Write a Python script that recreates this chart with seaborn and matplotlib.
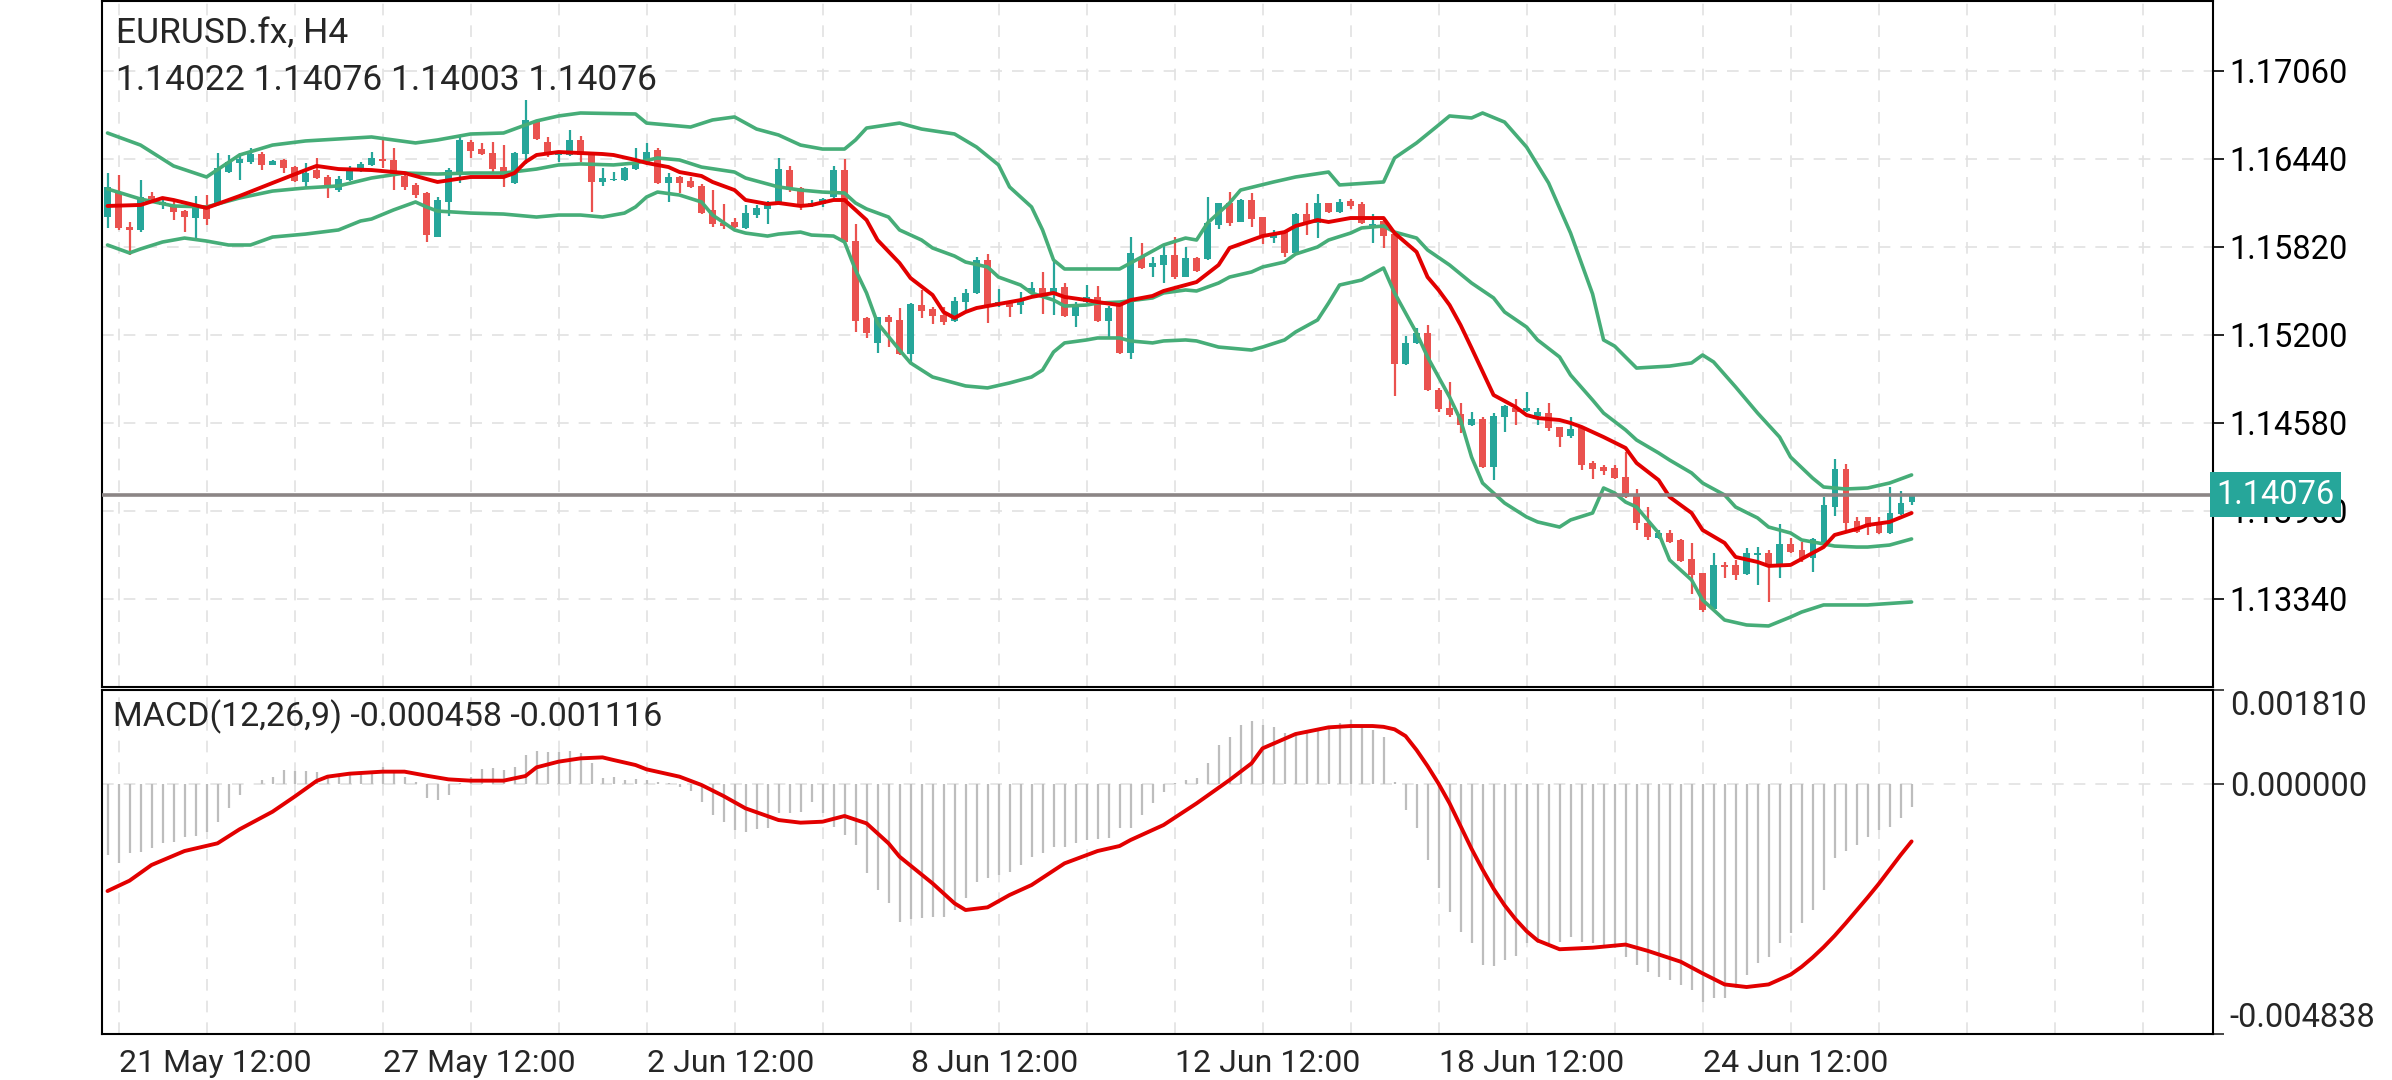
import numpy as np
import matplotlib
matplotlib.use("Agg")
import matplotlib.pyplot as plt
import matplotlib.transforms as mtransforms
import seaborn as sns

# ---- candle data (H4 bars, oldest first) ----
opens = [
    1.16034, 1.16210, 1.15963, 1.15940, 1.16179, 1.16116, 1.16116, 1.16074, 1.16027, 1.16104,
    1.16128, 1.16351, 1.16409, 1.16421, 1.16475, 1.16398, 1.16433, 1.16381, 1.16280, 1.16363,
    1.16311, 1.16222, 1.16292, 1.16363, 1.16398, 1.16442, 1.16433, 1.16320, 1.16257, 1.16198,
    1.15893, 1.16139, 1.16351, 1.16562, 1.16508, 1.16485, 1.16381, 1.16269, 1.16475, 1.16703,
    1.16562, 1.16468, 1.16468, 1.16574, 1.16475, 1.16280, 1.16292, 1.16292, 1.16367, 1.16409,
    1.16503, 1.16268, 1.16315, 1.16287, 1.16250, 1.16081, 1.15991, 1.15998, 1.15951, 1.16045,
    1.16085, 1.16139, 1.16362, 1.16233, 1.16109, 1.16123, 1.16174, 1.16362, 1.15864, 1.15317,
    1.15141, 1.15324, 1.15306, 1.15066, 1.15411, 1.15381, 1.15341, 1.15301, 1.15435, 1.15494,
    1.15728, 1.15411, 1.15423, 1.15411, 1.15493, 1.15529, 1.15493, 1.15536, 1.15334, 1.15435,
    1.15470, 1.15301, 1.15411, 1.15071, 1.15747, 1.15676, 1.15693, 1.15763, 1.15611, 1.15740,
    1.15733, 1.15975, 1.16127, 1.15998, 1.16151, 1.16029, 1.15881, 1.15928, 1.15775, 1.16052,
    1.15986, 1.16127, 1.16069, 1.16144, 1.16122, 1.15963, 1.16005, 1.15911, 1.14996, 1.15141,
    1.15216, 1.14810, 1.14683, 1.14643, 1.14566, 1.14606, 1.14268, 1.14625, 1.14683, 1.14667,
    1.14629, 1.14653, 1.14549, 1.14488, 1.14542, 1.14296, 1.14268, 1.14261, 1.14197, 1.14073,
    1.13873, 1.13768, 1.13803, 1.13756, 1.13620, 1.13521, 1.13267, 1.13580, 1.13580, 1.13516,
    1.13650, 1.13662, 1.13580, 1.13728, 1.13685, 1.13627, 1.13744, 1.13991, 1.14254, 1.13892,
    1.13916, 1.13862, 1.13803, 1.13939, 1.14022]
highs = [
    1.16339, 1.16327, 1.15999, 1.16292, 1.16210, 1.16163, 1.16139, 1.16081, 1.16179, 1.16186,
    1.16480, 1.16468, 1.16480, 1.16515, 1.16492, 1.16433, 1.16438, 1.16391, 1.16409, 1.16445,
    1.16327, 1.16320, 1.16391, 1.16421, 1.16487, 1.16586, 1.16515, 1.16327, 1.16269, 1.16210,
    1.16170, 1.16374, 1.16597, 1.16574, 1.16550, 1.16562, 1.16539, 1.16492, 1.16856, 1.16710,
    1.16597, 1.16498, 1.16644, 1.16602, 1.16480, 1.16374, 1.16351, 1.16386, 1.16515, 1.16550,
    1.16515, 1.16343, 1.16320, 1.16315, 1.16264, 1.16221, 1.16123, 1.16022, 1.16116, 1.16116,
    1.16146, 1.16444, 1.16390, 1.16240, 1.16151, 1.16163, 1.16390, 1.16437, 1.15982, 1.15324,
    1.15329, 1.15341, 1.15388, 1.15428, 1.15517, 1.15400, 1.15400, 1.15470, 1.15522, 1.15747,
    1.15770, 1.15522, 1.15435, 1.15505, 1.15575, 1.15646, 1.15716, 1.15564, 1.15435, 1.15552,
    1.15545, 1.15404, 1.15428, 1.15888, 1.15850, 1.15747, 1.15841, 1.15888, 1.15822, 1.15747,
    1.16170, 1.16127, 1.16209, 1.16155, 1.16198, 1.16033, 1.15939, 1.15935, 1.16057, 1.16127,
    1.16193, 1.16132, 1.16155, 1.16155, 1.16139, 1.16052, 1.16010, 1.15916, 1.15193, 1.15247,
    1.15270, 1.14824, 1.14871, 1.14723, 1.14660, 1.14621, 1.14648, 1.14707, 1.14747, 1.14801,
    1.14683, 1.14723, 1.14554, 1.14621, 1.14549, 1.14315, 1.14284, 1.14284, 1.14378, 1.14113,
    1.13991, 1.13826, 1.13826, 1.13761, 1.13732, 1.13526, 1.13662, 1.13603, 1.13615, 1.13697,
    1.13709, 1.13685, 1.13868, 1.13767, 1.13744, 1.13767, 1.14061, 1.14324, 1.14291, 1.13916,
    1.13920, 1.13920, 1.14132, 1.14104, 1.14076]
lows = [
    1.15952, 1.15940, 1.15764, 1.15928, 1.16139, 1.16085, 1.16010, 1.15928, 1.15881, 1.15975,
    1.16116, 1.16339, 1.16292, 1.16405, 1.16363, 1.16395, 1.16339, 1.16280, 1.16245, 1.16297,
    1.16163, 1.16210, 1.16287, 1.16351, 1.16391, 1.16374, 1.16222, 1.16222, 1.16163, 1.15858,
    1.15888, 1.16039, 1.16269, 1.16449, 1.16468, 1.16351, 1.16245, 1.16264, 1.16405, 1.16574,
    1.16456, 1.16421, 1.16461, 1.16421, 1.16069, 1.16253, 1.16287, 1.16287, 1.16362, 1.16398,
    1.16264, 1.16139, 1.16203, 1.16233, 1.16052, 1.15963, 1.15944, 1.15951, 1.15944, 1.16022,
    1.15982, 1.16132, 1.16210, 1.16081, 1.16099, 1.16104, 1.16163, 1.15846, 1.15224, 1.15177,
    1.15076, 1.15118, 1.15059, 1.14996, 1.15317, 1.15278, 1.15270, 1.15294, 1.15376, 1.15489,
    1.15282, 1.15400, 1.15329, 1.15348, 1.15489, 1.15348, 1.15341, 1.15329, 1.15254, 1.15428,
    1.15294, 1.15188, 1.15066, 1.15028, 1.15662, 1.15611, 1.15568, 1.15592, 1.15606, 1.15646,
    1.15728, 1.15944, 1.15968, 1.15998, 1.15963, 1.15841, 1.15850, 1.15752, 1.15770, 1.15904,
    1.15881, 1.16057, 1.16061, 1.16085, 1.15982, 1.15850, 1.15810, 1.14770, 1.14988, 1.15136,
    1.14808, 1.14660, 1.14625, 1.14507, 1.14559, 1.14261, 1.14178, 1.14519, 1.14566, 1.14660,
    1.14566, 1.14526, 1.14409, 1.14472, 1.14249, 1.14183, 1.14214, 1.14183, 1.14049, 1.13826,
    1.13756, 1.13761, 1.13732, 1.13603, 1.13375, 1.13251, 1.13258, 1.13486, 1.13474, 1.13509,
    1.13439, 1.13321, 1.13486, 1.13666, 1.13603, 1.13532, 1.13721, 1.13925, 1.13821, 1.13803,
    1.13791, 1.13798, 1.13798, 1.13932, 1.14003]
closes = [
    1.16245, 1.15952, 1.15940, 1.16175, 1.16156, 1.16139, 1.16069, 1.16029, 1.16092, 1.16015,
    1.16374, 1.16421, 1.16438, 1.16475, 1.16398, 1.16428, 1.16374, 1.16287, 1.16344, 1.16304,
    1.16250, 1.16297, 1.16367, 1.16405, 1.16445, 1.16424, 1.16327, 1.16245, 1.16186, 1.15905,
    1.16151, 1.16363, 1.16574, 1.16499, 1.16473, 1.16367, 1.16320, 1.16485, 1.16715, 1.16578,
    1.16468, 1.16484, 1.16574, 1.16468, 1.16280, 1.16304, 1.16299, 1.16374, 1.16409, 1.16491,
    1.16268, 1.16315, 1.16268, 1.16240, 1.16062, 1.15982, 1.15968, 1.15958, 1.16057, 1.16092,
    1.16123, 1.16367, 1.16221, 1.16116, 1.16132, 1.16156, 1.16362, 1.15857, 1.15301, 1.15212,
    1.15324, 1.15294, 1.15066, 1.15418, 1.15371, 1.15334, 1.15294, 1.15442, 1.15498, 1.15728,
    1.15400, 1.15435, 1.15399, 1.15446, 1.15529, 1.15482, 1.15529, 1.15334, 1.15411, 1.15470,
    1.15301, 1.15388, 1.15071, 1.15775, 1.15669, 1.15705, 1.15763, 1.15611, 1.15740, 1.15653,
    1.15986, 1.16127, 1.15991, 1.16151, 1.16014, 1.15904, 1.15904, 1.15775, 1.16052, 1.15982,
    1.16127, 1.16069, 1.16139, 1.16108, 1.15991, 1.15982, 1.15897, 1.14996, 1.15146, 1.15216,
    1.14812, 1.14680, 1.14636, 1.14566, 1.14606, 1.14268, 1.14629, 1.14700, 1.14660, 1.14683,
    1.14660, 1.14542, 1.14484, 1.14535, 1.14284, 1.14254, 1.14244, 1.14190, 1.14061, 1.13873,
    1.13779, 1.13808, 1.13744, 1.13610, 1.13509, 1.13263, 1.13580, 1.13568, 1.13509, 1.13662,
    1.13662, 1.13580, 1.13728, 1.13674, 1.13620, 1.13761, 1.14002, 1.14254, 1.13878, 1.13815,
    1.13845, 1.13803, 1.13944, 1.14014, 1.14076]

# ---- Bollinger bands (read at bar indices) ----
upper_idx = [0, 3, 6, 9, 12, 15, 18, 21, 24, 28, 30, 33, 36, 39, 41, 43, 48, 49, 53, 55,
             57, 59, 61, 63, 65, 67, 68, 69, 72, 74, 77, 79, 81, 82, 84, 85, 86, 87, 92, 94,
             96, 98, 99, 100, 102, 103, 106, 108, 111, 112, 116, 117, 119, 121, 122, 124, 125, 127, 129, 131,
             133, 135, 136, 137, 139, 142, 144, 145, 146, 148, 150, 152, 153, 155, 156, 158, 160, 162, 164]
upper_band = [1.16623, 1.16538, 1.16391, 1.16313, 1.16468, 1.16538, 1.16567, 1.16581, 1.16595, 1.16553,
              1.16574, 1.16616, 1.16623, 1.16708, 1.16743, 1.16764, 1.16757, 1.16693, 1.16665, 1.16715,
              1.16736, 1.16651, 1.16609, 1.16538, 1.16510, 1.16510, 1.16574, 1.16658, 1.16693, 1.16651,
              1.16616, 1.16524, 1.16398, 1.16243, 1.16102, 1.15940, 1.15728, 1.15665, 1.15665, 1.15749,
              1.15834, 1.15883, 1.15869, 1.15989, 1.16130, 1.16221, 1.16278, 1.16313, 1.16348, 1.16257,
              1.16278, 1.16447, 1.16553, 1.16679, 1.16743, 1.16729, 1.16764, 1.16700, 1.16524, 1.16271,
              1.15918, 1.15489, 1.15165, 1.15122, 1.14967, 1.14981, 1.15003, 1.15059, 1.15010, 1.14834,
              1.14650, 1.14481, 1.14340, 1.14192, 1.14129, 1.14115, 1.14122, 1.14157, 1.14214]
middle_idx = [0, 3, 6, 9, 12, 15, 18, 21, 24, 27, 30, 33, 36, 39, 41, 43, 46, 48, 50, 52,
              54, 57, 58, 60, 61, 63, 65, 67, 68, 69, 71, 72, 74, 75, 77, 78, 80, 81, 83, 84,
              86, 87, 89, 90, 92, 95, 96, 98, 99, 101, 102, 104, 105, 107, 108, 110, 111, 113, 114, 116,
              117, 119, 120, 122, 124, 126, 127, 129, 130, 132, 133, 135, 136, 138, 139, 141, 142, 144, 145, 147,
              148, 150, 151, 153, 154, 156, 157, 159, 160, 162, 164]
middle_band = [1.16229, 1.16158, 1.16109, 1.16102, 1.16165, 1.16214, 1.16236, 1.16250, 1.16306, 1.16341,
               1.16334, 1.16341, 1.16341, 1.16369, 1.16398, 1.16405, 1.16398, 1.16412, 1.16447, 1.16433,
               1.16383, 1.16348, 1.16306, 1.16264, 1.16243, 1.16221, 1.16207, 1.16200, 1.16130, 1.16088,
               1.16031, 1.15940, 1.15869, 1.15813, 1.15756, 1.15714, 1.15679, 1.15608, 1.15552, 1.15496,
               1.15446, 1.15404, 1.15411, 1.15425, 1.15432, 1.15461, 1.15496, 1.15517, 1.15510, 1.15566,
               1.15608, 1.15644, 1.15679, 1.15714, 1.15770, 1.15820, 1.15869, 1.15918, 1.15954, 1.15968,
               1.15925, 1.15883, 1.15799, 1.15693, 1.15566, 1.15461, 1.15362, 1.15256, 1.15165, 1.15045,
               1.14918, 1.14742, 1.14650, 1.14531, 1.14460, 1.14369, 1.14319, 1.14228, 1.14157, 1.14073,
               1.13988, 1.13911, 1.13847, 1.13805, 1.13756, 1.13728, 1.13713, 1.13706, 1.13706, 1.13720,
               1.13763]
lower_idx = [0, 2, 3, 5, 7, 9, 11, 13, 15, 18, 21, 23, 24, 26, 28, 29, 30, 33, 36, 39,
             41, 43, 45, 47, 48, 49, 50, 52, 54, 55, 57, 58, 60, 61, 63, 64, 66, 67, 68, 69,
             70, 72, 73, 75, 77, 78, 80, 82, 84, 85, 86, 87, 89, 90, 92, 93, 95, 96, 98, 99,
             101, 102, 104, 105, 107, 108, 110, 111, 112, 114, 116, 117, 118, 119, 120, 122, 123, 124, 125, 127,
             129, 130, 132, 133, 135, 136, 137, 138, 139, 141, 142, 144, 145, 146, 147, 149, 151, 153, 154, 156,
             160, 164]
lower_band = [1.15834, 1.15778, 1.15806, 1.15855, 1.15883, 1.15862, 1.15834, 1.15834, 1.15890, 1.15911,
              1.15940, 1.16003, 1.16017, 1.16081, 1.16137, 1.16102, 1.16073, 1.16059, 1.16052, 1.16031,
              1.16045, 1.16045, 1.16031, 1.16059, 1.16102, 1.16172, 1.16207, 1.16186, 1.16137, 1.16045,
              1.15940, 1.15918, 1.15897, 1.15911, 1.15925, 1.15904, 1.15897, 1.15855, 1.15658, 1.15496,
              1.15284, 1.15094, 1.15003, 1.14904, 1.14862, 1.14841, 1.14827, 1.14862, 1.14904, 1.14953,
              1.15080, 1.15144, 1.15165, 1.15179, 1.15179, 1.15158, 1.15144, 1.15158, 1.15165, 1.15158,
              1.15115, 1.15108, 1.15094, 1.15115, 1.15165, 1.15221, 1.15306, 1.15425, 1.15552, 1.15587,
              1.15672, 1.15496, 1.15355, 1.15214, 1.15045, 1.14763, 1.14601, 1.14340, 1.14157, 1.14016,
              1.13918, 1.13883, 1.13847, 1.13897, 1.13946, 1.14122, 1.14087, 1.14023, 1.13988, 1.13805,
              1.13615, 1.13474, 1.13333, 1.13263, 1.13192, 1.13157, 1.13150, 1.13213, 1.13248, 1.13298,
              1.13298, 1.13319]

# ---- red moving average ----
ma_idx = [0, 3, 5, 6, 9, 12, 15, 18, 19, 21, 24, 27, 29, 30, 33, 36, 37, 38, 39, 41,
          43, 45, 46, 48, 49, 51, 52, 54, 55, 57, 58, 60, 61, 63, 64, 66, 67, 68, 69, 70,
          72, 73, 75, 76, 77, 78, 79, 82, 83, 84, 86, 87, 89, 90, 92, 93, 95, 96, 98, 99,
          101, 102, 104, 105, 107, 108, 110, 111, 113, 114, 116, 117, 119, 120, 121, 122, 123, 124, 126, 128,
          129, 130, 132, 133, 134, 136, 138, 139, 141, 142, 144, 145, 147, 148, 150, 151, 153, 154, 156, 157,
          159, 160, 162, 164]
ma_line = [1.16109, 1.16116, 1.16165, 1.16151, 1.16095, 1.16179, 1.16271, 1.16362, 1.16391, 1.16369,
           1.16362, 1.16341, 1.16299, 1.16278, 1.16313, 1.16313, 1.16341, 1.16419, 1.16468, 1.16489,
           1.16482, 1.16475, 1.16468, 1.16433, 1.16412, 1.16383, 1.16348, 1.16320, 1.16278, 1.16221,
           1.16151, 1.16123, 1.16130, 1.16109, 1.16116, 1.16151, 1.16151, 1.16081, 1.16010, 1.15869,
           1.15707, 1.15601, 1.15482, 1.15362, 1.15320, 1.15362, 1.15390, 1.15432, 1.15446, 1.15468,
           1.15496, 1.15468, 1.15446, 1.15432, 1.15411, 1.15446, 1.15475, 1.15510, 1.15552, 1.15573,
           1.15693, 1.15813, 1.15869, 1.15897, 1.15925, 1.15968, 1.16010, 1.15996, 1.16024, 1.16024,
           1.16024, 1.15918, 1.15785, 1.15608, 1.15517, 1.15411, 1.15270, 1.15108, 1.14777, 1.14693,
           1.14636, 1.14615, 1.14601, 1.14580, 1.14552, 1.14481, 1.14404, 1.14298, 1.14178, 1.14059,
           1.13946, 1.13826, 1.13735, 1.13636, 1.13601, 1.13573, 1.13580, 1.13622, 1.13706, 1.13791,
           1.13833, 1.13861, 1.13883, 1.13946]

# ---- MACD(12,26,9) ----
macd_hist = [
    -0.001379, -0.001527, -0.001347, -0.001315, -0.001250, -0.001141, -0.001121, -0.001025, -0.001012, -0.000928,
    -0.000735, -0.000477, -0.000219, -0.000007, 0.000070, 0.000135, 0.000264, 0.000251, 0.000251, 0.000232,
    0.000167, 0.000135, 0.000167, 0.000199, 0.000212, 0.000315, 0.000199, 0.000122, 0.000038, -0.000284,
    -0.000316, -0.000219, 0.000006, 0.000135, 0.000277, 0.000296, 0.000264, 0.000315, 0.000554, 0.000637,
    0.000618, 0.000618, 0.000637, 0.000586, 0.000393, 0.000103, 0.000122, 0.000070, 0.000096, 0.000070,
    0.000038, 0.000006, -0.000071, -0.000136, -0.000348, -0.000606, -0.000735, -0.000896, -0.000928, -0.000883,
    -0.000864, -0.000574, -0.000561, -0.000542, -0.000348, -0.000561, -0.000831, -0.000993, -0.001186, -0.001733,
    -0.002056, -0.002313, -0.002667, -0.002622, -0.002603, -0.002584, -0.002584, -0.002442, -0.002216, -0.001894,
    -0.001830, -0.001766, -0.001701, -0.001572, -0.001411, -0.001347, -0.001218, -0.001218, -0.001153, -0.001089,
    -0.001076, -0.001057, -0.000864, -0.000864, -0.000606, -0.000381, -0.000155, 0.000006, 0.000070, 0.000103,
    0.000393, 0.000747, 0.000908, 0.001133, 0.001217, 0.001133, 0.001101, 0.000972, 0.000972, 0.001004,
    0.001037, 0.001069, 0.001166, 0.001230, 0.001101, 0.001037, 0.000908, 0.000038, -0.000509, -0.000864,
    -0.001476, -0.002023, -0.002474, -0.002861, -0.003086, -0.003505, -0.003524, -0.003408, -0.003331, -0.003086,
    -0.003086, -0.003086, -0.003054, -0.002957, -0.003054, -0.003086, -0.003151, -0.003183, -0.003344, -0.003505,
    -0.003634, -0.003730, -0.003795, -0.003891, -0.003988, -0.004214, -0.004149, -0.004149, -0.003956, -0.003698,
    -0.003473, -0.003344, -0.003086, -0.002893, -0.002687, -0.002442, -0.002056, -0.001443, -0.001295, -0.001186,
    -0.001025, -0.000896, -0.000831, -0.000670, -0.000458]
signal_idx = [0, 2, 4, 7, 10, 12, 15, 17, 19, 20, 22, 25, 27, 29, 31, 33, 36, 38, 39, 41,
              43, 45, 46, 48, 49, 52, 54, 56, 58, 61, 63, 65, 67, 69, 71, 72, 75, 77, 78, 80,
              82, 84, 87, 90, 92, 93, 96, 99, 102, 104, 105, 108, 111, 113, 115, 116, 117, 118, 119, 120,
              121, 122, 123, 124, 125, 126, 127, 128, 129, 130, 132, 135, 138, 140, 143, 145, 147, 149, 151, 153,
              154, 155, 156, 157, 158, 159, 160, 161, 162, 163, 164]
signal_line = [-0.002075, -0.001875, -0.001572, -0.001302, -0.001153, -0.000883, -0.000542, -0.000252, 0.000051, 0.000135,
               0.000193, 0.000232, 0.000232, 0.000154, 0.000083, 0.000058, 0.000058, 0.000148, 0.000315, 0.000425,
               0.000489, 0.000508, 0.000457, 0.000360, 0.000277, 0.000135, -0.000026, -0.000239, -0.000477, -0.000703,
               -0.000754, -0.000735, -0.000625, -0.000767, -0.001153, -0.001411, -0.001927, -0.002313, -0.002442, -0.002390,
               -0.002152, -0.001959, -0.001540, -0.001302, -0.001205, -0.001089, -0.000799, -0.000381, 0.000070, 0.000393,
               0.000682, 0.000959, 0.001088, 0.001114, 0.001114, 0.001098, 0.001050, 0.000920, 0.000650, 0.000340,
               0.000000, -0.000380, -0.000820, -0.001260, -0.001660, -0.002030, -0.002350, -0.002620, -0.002850, -0.003030,
               -0.003200, -0.003170, -0.003110, -0.003230, -0.003440, -0.003666, -0.003880, -0.003930, -0.003880, -0.003690,
               -0.003540, -0.003360, -0.003160, -0.002940, -0.002700, -0.002450, -0.002200, -0.001940, -0.001660, -0.001380,
               -0.001116]

price_ticks = [1.13340, 1.13960, 1.14580, 1.15200, 1.15820, 1.16440, 1.17060]
macd_ticks = [-0.004838, 0.0, 0.001810]
date_labels = ["21 May 12:00", "27 May 12:00", "2 Jun 12:00", "8 Jun 12:00",
               "12 Jun 12:00", "18 Jun 12:00", "24 Jun 12:00"]
date_bars = [1, 25, 49, 73, 97, 121, 145]
last_bar = [1.14022, 1.14076, 1.14003, 1.14076]
macd_last = [-0.000458, -0.001116]

# colours
UP = "#26a69a"
DOWN = "#ea524f"
BAND = "#46ad78"
MA_RED = "#e20000"
GRID = "#e2e2e2"

sns.set_style("white")
plt.rcParams["font.family"] = ["Roboto", "DejaVu Sans"]

W, H = 2392, 1080
fig = plt.figure(figsize=(W / 100, H / 100), dpi=100)
left, right = 102, 2213
ax = fig.add_axes([left / W, 1 - 687 / H, (right - left) / W, 686 / H])
ax2 = fig.add_axes([left / W, 1 - 1034 / H, (right - left) / W, 344 / H])

o = np.array(opens)
h = np.array(highs)
l = np.array(lows)
c = np.array(closes)
x = np.arange(len(o))
cols = np.where(c >= o, UP, DOWN)

# grid lines (every 8 bars vertically)
grid_x = np.arange(1, 192, 8)
for a in (ax, ax2):
    for gx in grid_x:
        a.axvline(gx, color=GRID, lw=1.2, ls=(0, (7, 6)), zorder=0)
for py in price_ticks:
    ax.axhline(py, color=GRID, lw=1.2, ls=(0, (7, 6)), zorder=0)
ax2.axhline(0, color=GRID, lw=1.2, ls=(0, (7, 6)), zorder=0)

# candles
ax.vlines(x, l, h, colors=cols, lw=1.6, zorder=2)
body_lo = np.minimum(o, c)
body_h = np.maximum(np.abs(c - o), 0.00004)
ax.bar(x, body_h, bottom=body_lo, width=0.56, color=cols, linewidth=0, zorder=3)

# bands and moving average
for idx, vals in ((upper_idx, upper_band), (middle_idx, middle_band), (lower_idx, lower_band)):
    sns.lineplot(x=idx, y=vals, ax=ax, color=BAND, lw=2.6, estimator=None, zorder=4)
sns.lineplot(x=ma_idx, y=ma_line, ax=ax, color=MA_RED, lw=2.8, estimator=None, zorder=5)

# current price line + label
ax.axhline(last_bar[3], color="#8b8585", lw=2.6, zorder=6)
trans = mtransforms.blended_transform_factory(ax.transAxes, ax.transData)
ax.text(1.0015, last_bar[3], f"{last_bar[3]:.5f}", transform=trans, ha="left", va="center",
        fontsize=23.5, color="white", clip_on=False, zorder=10,
        bbox=dict(boxstyle="square,pad=0.2", fc=UP, ec="none"))

# MACD histogram + signal
ax2.vlines(x, 0, macd_hist, colors="#bdbdbd", lw=1.6, zorder=2)
sns.lineplot(x=signal_idx, y=signal_line, ax=ax2, color=MA_RED, lw=2.8, estimator=None, zorder=5)

# axes setup
xlim = (-0.5, 191.4)
ax.set_xlim(*xlim)
ax2.set_xlim(*xlim)
ax.set_ylim(1.1272, 1.17553)
ax2.set_ylim(macd_ticks[0], macd_ticks[-1])

ax.yaxis.tick_right()
ax.set_yticks(price_ticks)
ax.set_yticklabels([f"{v:.5f}" for v in price_ticks])
ax.set_xticks([])
ax.tick_params(axis="y", direction="out", length=8, width=1.2, pad=4, labelsize=23.5, colors="black")

ax2.yaxis.tick_right()
ax2.set_yticks(macd_ticks)
ax2.set_yticklabels([f"{v:.6f}" for v in macd_ticks])
ax2.tick_params(axis="y", direction="out", length=8, width=1.2, pad=4, labelsize=23.5)
ylabs = ax2.get_yticklabels()
ylabs[0].set_va("bottom")
ylabs[-1].set_va("top")

ax2.set_xticks(date_bars)
ax2.set_xticklabels(date_labels, ha="left")
ax2.tick_params(axis="x", direction="out", length=8, width=1.2, pad=3, labelsize=23)

for a in (ax, ax2):
    a.set_xlabel("")
    a.set_ylabel("")
    a.grid(False)
    for s in a.spines.values():
        s.set_visible(True)
        s.set_color("black")
        s.set_linewidth(1.5)
    if a.get_legend():
        a.get_legend().remove()

# header texts
fig.text(116 / W, 1 - 34 / H, "EURUSD.fx, H4", fontsize=25.5, va="center", ha="left")
fig.text(116 / W, 1 - 81 / H, " ".join(f"{v:.5f}" for v in last_bar), fontsize=25.5, va="center", ha="left")
fig.text(113 / W, 1 - 717 / H, f"MACD(12,26,9) {macd_last[0]:.6f} {macd_last[1]:.6f}",
         fontsize=24.5, va="center", ha="left")

fig.savefig("out.png", dpi=100, facecolor="white")
